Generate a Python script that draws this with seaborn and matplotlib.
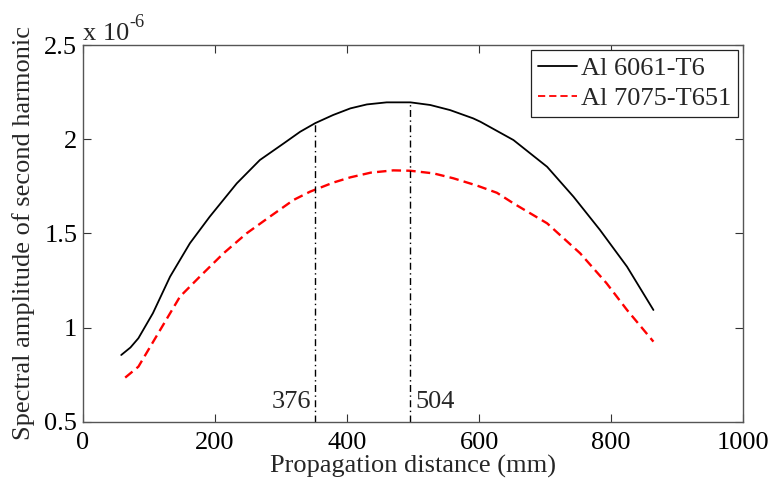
import matplotlib
matplotlib.use("Agg")
import matplotlib.pyplot as plt
import seaborn as sns
import pandas as pd

# ---- data (amplitudes in units of 1e-6) ----
series_names = ["Al 6061-T6", "Al 7075-T651"]

x_6061 = [58, 72, 84, 106, 132, 162, 192, 233, 268, 304, 329, 352, 379, 405,
          430, 460, 496, 526, 556, 591, 602, 652, 703, 743, 783, 824, 864]
y_6061 = [0.855, 0.895, 0.944, 1.077, 1.271, 1.448, 1.589, 1.766, 1.890, 1.978,
          2.040, 2.086, 2.129, 2.164, 2.185, 2.196, 2.196, 2.182, 2.155, 2.111,
          2.093, 1.996, 1.854, 1.695, 1.519, 1.324, 1.094]

x_7075 = [64, 84, 117, 147, 177, 213, 248, 283, 319, 344, 379, 405, 436, 470,
          496, 531, 561, 597, 627, 652, 703, 753, 793, 824, 864]
y_7075 = [0.735, 0.793, 0.988, 1.165, 1.271, 1.395, 1.501, 1.589, 1.678, 1.722,
          1.770, 1.798, 1.823, 1.835, 1.833, 1.819, 1.793, 1.754, 1.716, 1.660,
          1.554, 1.395, 1.236, 1.094, 0.926]

marker_x = [352, 496]
marker_top = [2.086, 2.196]
marker_labels = ["376", "504"]

xlabel = "Propagation distance (mm)"
ylabel = "Spectral amplitude of second harmonic"
x_ticks = [0, 200, 400, 600, 800, 1000]
y_ticks = [0.5, 1, 1.5, 2, 2.5]
y_tick_labels = ["0.5", "1", "1.5", "2", "2.5"]
scale_base = "x 10"
scale_exp = "-6"

df = pd.concat([
    pd.DataFrame({"x": x_6061, "y": y_6061, "material": series_names[0]}),
    pd.DataFrame({"x": x_7075, "y": y_7075, "material": series_names[1]}),
], ignore_index=True)

sns.set_theme(style="ticks")
plt.rcParams["font.family"] = ["Liberation Serif", "DejaVu Serif"]

FS = 19

fig = plt.figure(figsize=(7.75, 4.9), dpi=100)
ax = fig.add_axes([0.107, 0.139, 0.852, 0.769])

sns.lineplot(data=df, x="x", y="y", hue="material", style="material",
             palette={series_names[0]: "black", series_names[1]: "#ff0000"},
             dashes={series_names[0]: "", series_names[1]: (4, 2.2)},
             linewidth=1.3, ax=ax, sort=True, estimator=None)
lines = ax.get_lines()
if len(lines) >= 2:
    lines[1].set_linewidth(1.7)

ax.vlines(marker_x, [0.5, 0.5], marker_top, colors="black",
          linestyles=(0, (5, 2.5, 1, 2.5)), linewidth=1.0)
ax.text(marker_x[0] - 7, 0.545, marker_labels[0], ha="right", va="bottom",
        fontsize=FS)
ax.text(marker_x[1] + 7, 0.545, marker_labels[1], ha="left", va="bottom",
        fontsize=FS)

ax.set_xlim(0, 1000)
ax.set_ylim(0.5, 2.5)
ax.set_xticks(x_ticks)
ax.set_yticks(y_ticks)
ax.set_yticklabels(y_tick_labels)
ax.tick_params(direction="in", length=6, width=0.8, labelsize=FS,
               top=True, right=True, colors="#333333", labelcolor="black")
ax.tick_params(axis="x", pad=7)
ax.tick_params(axis="y", pad=4)
ax.set_xlabel(xlabel, fontsize=FS, labelpad=1)
ax.set_ylabel(ylabel, fontsize=FS, labelpad=7)
for sp in ax.spines.values():
    sp.set_visible(True)
    sp.set_color("#555555")
    sp.set_linewidth(1.0)

t = ax.text(0.0, 1.0, scale_base, transform=ax.transAxes,
            ha="left", va="bottom", fontsize=FS)
ax.annotate(scale_exp, xy=(1.0, 0.62), xycoords=t, ha="left", va="bottom",
            fontsize=FS * 0.7)

h, l = ax.get_legend_handles_labels()
leg = ax.legend(h, l, loc="upper right", fontsize=FS, frameon=True,
                fancybox=False, edgecolor="#222222", framealpha=1,
                borderpad=0.25, handlelength=1.5, handletextpad=0.15,
                labelspacing=0.25, borderaxespad=0.2)
leg.get_frame().set_linewidth(0.9)

fig.savefig("out.png", dpi=100)
